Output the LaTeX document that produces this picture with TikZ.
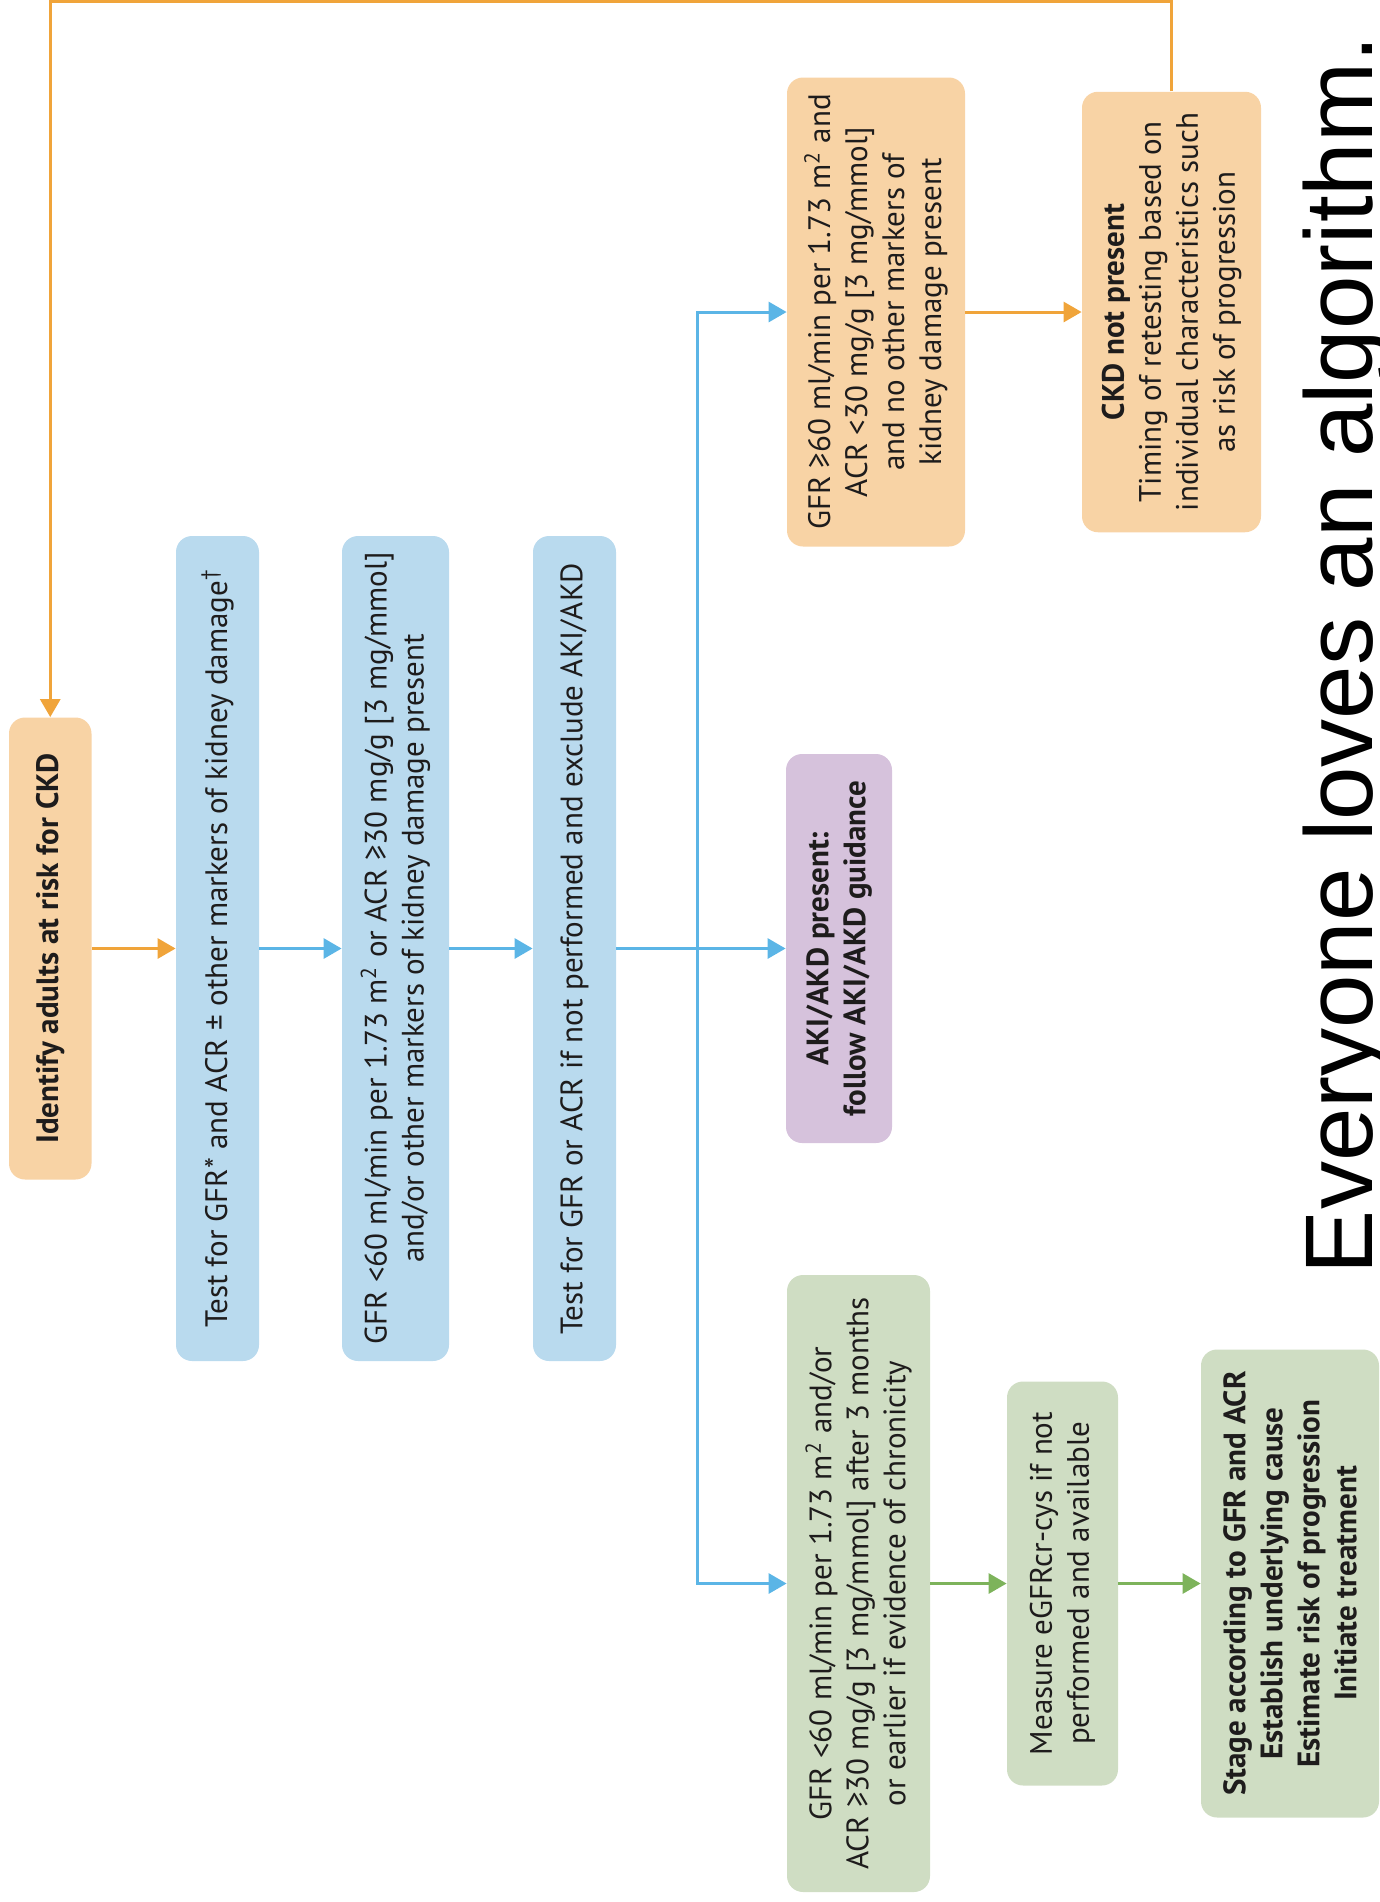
\documentclass[tikz,border=0pt]{standalone}
\usepackage{fontspec}
\setmainfont{PT Sans}
\newfontfamily\bigfont{Liberation Sans}
\usetikzlibrary{arrows.meta}
\definecolor{ofill}{HTML}{F8D3A5}
\definecolor{oline}{HTML}{F0A43A}
\definecolor{bfill}{HTML}{B9DAEE}
\definecolor{bline}{HTML}{5BB5E6}
\definecolor{pfill}{HTML}{D6C2DC}
\definecolor{gfill}{HTML}{CFDDC3}
\definecolor{gline}{HTML}{7DB35B}
\definecolor{txt}{HTML}{1E1C1C}
\newcommand\fs{\fontsize{15.5}{18.5}\selectfont}
\begin{document}
\begin{tikzpicture}[x=0.5pt,y=-0.5pt,
  box/.style={rounded corners=8pt, rotate=90, align=center, inner sep=0pt, text=txt, font=\fs},
  boldbox/.style={box, font=\fs\bfseries},
  conn/.style={line width=1.5pt, -{Triangle[length=9pt,width=10pt]}},
  oarr/.style={conn, draw=oline},
  barr/.style={conn, draw=bline},
  garr/.style={conn, draw=gline}]
\useasboundingbox (0,0) rectangle (1380,1902);

% column 1-4
\node[boldbox, fill=ofill, minimum width=231pt, minimum height=41.25pt] (idn) at (50.25,948.5) {Identify adults at risk for CKD};
\node[box, fill=bfill, minimum width=412.5pt, minimum height=41.5pt] (test) at (217.5,948.5) {Test for GFR* and ACR ± other markers of kidney damage\textsuperscript{\textdagger}};
\node[box, fill=bfill, minimum width=412.5pt, minimum height=53.5pt] (gfrb) at (395.5,948.5) {GFR <60 ml/min per 1.73 m\textsuperscript{2} or ACR ≥30 mg/g [3 mg/mmol]\\and/or other markers of kidney damage present};
\node[box, fill=bfill, minimum width=412.5pt, minimum height=41.5pt] (test2) at (574.5,948.5) {Test for GFR or ACR if not performed and exclude AKI/AKD};

% branches
\node[box, fill=ofill, minimum width=234.5pt, minimum height=89pt] (gfrhi) at (876,312) {GFR ≥60 ml/min per 1.73 m\textsuperscript{2} and\\ACR <30 mg/g [3 mg/mmol]\\and no other markers of\\kidney damage present};
\node[box, fill=ofill, minimum width=220.25pt, minimum height=89.5pt] (ckd) at (1171.5,312) {\textbf{CKD not present}\\Timing of retesting based on\\individual characteristics such\\as risk of progression};
\node[boldbox, fill=pfill, minimum width=194.5pt, minimum height=53pt] (aki) at (839,948.5) {AKI/AKD present:\\follow AKI/AKD guidance};
\node[box, fill=gfill, minimum width=308.5pt, minimum height=71.5pt] (gfrlo) at (858.5,1583.5) {GFR <60 ml/min per 1.73 m\textsuperscript{2} and/or\\ACR ≥30 mg/g [3 mg/mmol] after 3 months\\or earlier if evidence of chronicity};
\node[box, fill=gfill, minimum width=202pt, minimum height=55.5pt] (meas) at (1062.5,1583.5) {Measure eGFRcr-cys if not\\performed and available};
\node[boldbox, fill=gfill, minimum width=234pt, minimum height=89pt] (stage) at (1290,1583.5) {Stage according to GFR and ACR\\Establish underlying cause\\Estimate risk of progression\\Initiate treatment};

% title
\node[rotate=90, anchor=base, inner sep=0pt, text=black, font=\bigfont\fontsize{48}{56}\selectfont] (title) at (1372,655) {Everyone loves an algorithm.};

% connectors
\draw[oarr] (idn.south) -- (test.north);
\draw[barr] (test.south) -- (gfrb.north);
\draw[barr] (gfrb.south) -- (test2.north);
\draw[barr] (test2.south) -- (aki.north);
\coordinate (jn) at (697,948.5);
\draw[barr] (jn) |- (gfrhi.north);
\draw[barr] (jn) |- (gfrlo.north);
\draw[oarr] (gfrhi.south) -- (ckd.north);
\draw[garr] (gfrlo.south) -- (meas.north);
\draw[garr] (meas.south) -- (stage.north);
\coordinate (topline) at (0,1.6);
\draw[oarr] (ckd.east) |- (topline -| idn.east) -- (idn.east);
\end{tikzpicture}
\end{document}
